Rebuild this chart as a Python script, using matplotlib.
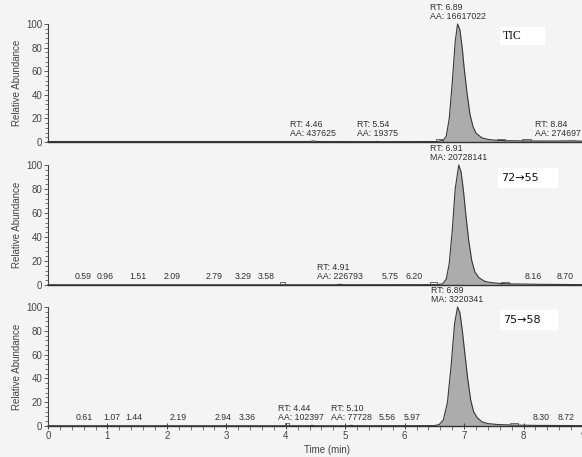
import matplotlib.pyplot as plt
from matplotlib.ticker import MultipleLocator
from matplotlib.patches import Rectangle

plt.rcParams['font.family'] = ['Liberation Sans', 'DejaVu Sans']

# TIC trace (time in min, relative abundance in %)
tic_time = [0, 4.40, 4.46, 4.52, 5.50, 5.54, 5.58, 6.55, 6.65, 6.70, 6.75, 6.80, 6.85, 6.89,
            6.93, 6.97, 7.00, 7.05, 7.10, 7.15, 7.20, 7.30, 7.40, 7.50, 7.70, 8.00, 8.50, 8.84, 9.0]
tic_abund = [0.4, 0.4, 0.9, 0.4, 0.3, 0.5, 0.3, 0.4, 1.5, 5, 20, 50, 85, 100,
             95, 79, 63, 41, 23, 13, 7.5, 3.5, 2.2, 1.6, 1.1, 0.9, 0.8, 1.0, 0.6]

# 72->55 trace
t72_time = [0, 4.85, 4.91, 4.97, 6.55, 6.64, 6.70, 6.75, 6.80, 6.85, 6.91, 6.95, 6.99,
            7.03, 7.08, 7.13, 7.18, 7.25, 7.35, 7.45, 7.60, 7.80, 8.20, 9.0]
t72_abund = [0.2, 0.2, 0.6, 0.2, 0.3, 1, 5, 18, 45, 80, 100, 94, 78,
             58, 36, 20, 11, 6, 3, 2, 1.3, 0.9, 0.6, 0.3]

# 75->58 trace
t75_time = [0, 4.40, 4.44, 4.48, 5.05, 5.10, 5.15, 6.50, 6.58, 6.65, 6.72, 6.78, 6.84, 6.89,
            6.93, 6.97, 7.01, 7.06, 7.11, 7.16, 7.22, 7.30, 7.40, 7.55, 7.80, 8.20, 9.0]
t75_abund = [0.2, 0.2, 0.6, 0.2, 0.2, 0.5, 0.2, 0.3, 1.2, 5, 20, 50, 86, 100,
             95, 80, 62, 40, 22, 12, 7, 3.5, 2, 1.3, 0.8, 0.5, 0.3]

# integration labels: (rt, text)
tic_main = (6.89, 'RT: 6.89\nAA: 16617022')
tic_small = [(4.46, 'RT: 4.46\nAA: 437625'), (5.54, 'RT: 5.54\nAA: 19375')]
tic_right = (8.84, 'RT: 8.84\nAA: 274697')

t72_main = (6.91, 'RT: 6.91\nMA: 20728141')
t72_small = [(4.91, 'RT: 4.91\nAA: 226793')]
t72_rts = [0.59, 0.96, 1.51, 2.09, 2.79, 3.29, 3.58, 5.75, 6.20, 8.16, 8.70]

t75_main = (6.89, 'RT: 6.89\nMA: 3220341')
t75_small = [(4.44, 'RT: 4.44\nAA: 102397'), (5.10, 'RT: 5.10\nAA: 77728')]
t75_rts = [0.61, 1.07, 1.44, 2.19, 2.94, 3.36, 5.56, 5.97, 8.30, 8.72]

# small integration markers (start, end) near the baseline
tic_marks = [(6.52, 6.64), (7.55, 7.68), (7.98, 8.12)]
t72_marks = [(3.90, 3.98), (6.42, 6.55), (7.62, 7.75)]
t75_marks = [(3.98, 4.06), (7.78, 7.90)]

# label nudges (points) so neighbouring labels don't collide, as the software does
nudge = {(2, 4.44): -8, (2, 5.56): 6, (2, 5.97): 7, (1, 3.58): 4, (1, 6.20): -2}

panels = [
    (tic_time, tic_abund, tic_main, tic_small, [], tic_marks),
    (t72_time, t72_abund, t72_main, t72_small, t72_rts, t72_marks),
    (t75_time, t75_abund, t75_main, t75_small, t75_rts, t75_marks),
]

W, H = 582, 457
bg = '#f4f4f4'
fig = plt.figure(figsize=(W / 100, H / 100), dpi=100, facecolor=bg)

# (bottom px of 0, top px of 100) for each panel
rows = [(142, 24), (285, 165), (426, 307)]
x0, x9 = 48, 583
txt = '#303030'
fs = 6.3

for i, (p, (ybot, ytop)) in enumerate(zip(panels, rows)):
    t, a, main, small, rts, marks = p
    ax = fig.add_axes([x0 / W, 1 - ybot / H, (x9 - x0) / W, (ybot - ytop) / H])
    ax.set_facecolor('none')
    ax.set_xlim(0, 9)
    ax.set_ylim(0, 100)
    ax.fill_between(t, 0, a, color='#acacac', lw=0, clip_on=False)
    ax.plot(t, a, color='#383838', lw=0.8, clip_on=False)
    for s, e in marks:
        ax.plot([s, s, e, e], [0, 2.2, 2.2, 0], color='#555555', lw=0.6, clip_on=False)

    for sp in ['top', 'right']:
        ax.spines[sp].set_visible(False)
    ax.spines['left'].set_color('#444444')
    ax.spines['bottom'].set_color('#333333')
    ax.spines['left'].set_linewidth(0.8)
    ax.spines['bottom'].set_linewidth(1.0)

    ax.yaxis.set_major_locator(MultipleLocator(20))
    ax.yaxis.set_minor_locator(MultipleLocator(4))
    ax.tick_params(axis='y', which='major', length=3, width=0.6, pad=1,
                   labelsize=7, colors='#444444')
    ax.tick_params(axis='y', which='minor', length=2, width=0.5, colors='#444444')
    ax.set_ylabel('Relative Abundance', fontsize=7, color='#444444', labelpad=3)

    if i < 2:
        ax.set_xticks([])
    else:
        ax.xaxis.set_major_locator(MultipleLocator(1))
        ax.xaxis.set_minor_locator(MultipleLocator(0.2))
        ax.tick_params(axis='x', which='major', length=5, width=0.7, direction='inout',
                       labelsize=7, colors='#444444', pad=1)
        ax.tick_params(axis='x', which='minor', length=3, width=0.5, direction='out',
                       colors='#444444')

    # main peak label
    ax.annotate(main[1], (main[0], 100), xytext=(0, 2), textcoords='offset points',
                ha='center', va='bottom', multialignment='left', fontsize=fs,
                color=txt, linespacing=1.0, annotation_clip=False)
    for rt, s in small:
        ax.annotate(s, (rt, 1), xytext=(nudge.get((i, rt), 0), 2), textcoords='offset points',
                    ha='center', va='bottom', multialignment='left', fontsize=fs,
                    color=txt, linespacing=1.0)
    for rt in rts:
        ax.annotate(f'{rt:.2f}', (rt, 1), xytext=(nudge.get((i, rt), 0), 2),
                    textcoords='offset points', ha='center', va='bottom',
                    fontsize=fs, color=txt)
    if i == 0:
        ax.annotate(tic_right[1], (8.96, 1), xytext=(0, 2), textcoords='offset points',
                    ha='right', va='bottom', multialignment='left', fontsize=fs,
                    color=txt, linespacing=1.0, annotation_clip=False)

# white boxes with trace names
boxes = [(500, 27, 45, 18, 'TIC', 'Liberation Serif', 8.5),
         (498, 168, 60, 20, '72\u219255', 'DejaVu Sans', 8),
         (500, 310, 58, 20, '75\u219258', 'DejaVu Sans', 8)]
for bx, by, bw, bh, s, fam, size in boxes:
    fig.patches.append(Rectangle((bx / W, 1 - (by + bh) / H), bw / W, bh / H,
                                 transform=fig.transFigure, facecolor='white',
                                 edgecolor='none', zorder=5))
    fig.text((bx + 3) / W, 1 - (by + bh / 2) / H, s, fontsize=size, va='center',
             ha='left', family=[fam, 'DejaVu Sans'], color='#111111', zorder=6)

fig.text(327 / W, 1 - 450 / H, 'Time (min)', ha='center', va='center',
         fontsize=7, color='#444444')

fig.savefig('out.png', dpi=100, facecolor=bg)
